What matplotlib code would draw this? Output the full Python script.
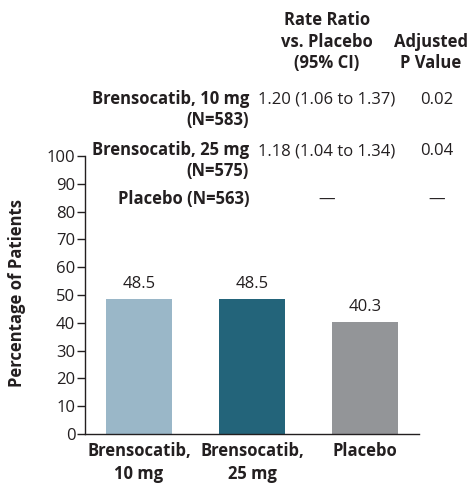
import matplotlib.pyplot as plt

plt.rcParams['font.family'] = ['Open Sans', 'DejaVu Sans']

groups = ["Brensocatib,\n10 mg", "Brensocatib,\n25 mg", "Placebo"]
values = [48.5, 48.5, 40.3]
colors = ["#9ab7c8", "#23647a", "#939598"]
yticks = [0, 10, 20, 30, 40, 50, 60, 70, 80, 90, 100]

row_names = [["Brensocatib, 10 mg", "(N=583)"], ["Brensocatib, 25 mg", "(N=575)"], ["Placebo (N=563)"]]
rate_ratios = ["1.20 (1.06 to 1.37)", "1.18 (1.04 to 1.34)", "\u2014"]
p_values = ["0.02", "0.04", "\u2014"]

txt = "#231f20"
W, H = 474, 484
fs = 12


def put(xp, yp, s, **kw):
    # place text by pixel position (from top-left), baseline aligned
    fig.text(xp / W, 1 - yp / H, s, va="baseline", fontsize=fs, color=txt, **kw)


fig = plt.figure(figsize=(W / 100, H / 100), dpi=100)
ax = fig.add_axes([85 / W, (H - 434) / H, (419 - 85) / W, (434 - 156) / H])

x = range(len(groups))
bars = ax.bar(x, values, width=0.584, color=colors)
for b, v in zip(bars, values):
    ax.text(b.get_x() + b.get_width() / 2, v + 4, f"{v:.1f}", ha="center", va="baseline",
            fontsize=fs, color=txt)

ax.set_xlim(-0.478, 2.478)
ax.set_ylim(0, 100)
ax.set_yticks(yticks)
ax.set_xticks(list(x))
ax.set_xticklabels(groups, fontsize=fs, fontweight="bold", color=txt, linespacing=1.3)
ax.tick_params(axis="x", length=0, pad=6)
ax.tick_params(axis="y", length=6, width=1, color=txt, labelsize=fs, labelcolor=txt, pad=1)
for s in ["top", "right"]:
    ax.spines[s].set_visible(False)
for s in ["left", "bottom"]:
    ax.spines[s].set_color(txt)
    ax.spines[s].set_linewidth(1)

fig.text(17 / W, 1 - 293 / H, "Percentage of Patients", rotation=90, ha="center", va="center",
         fontsize=fs, fontweight="bold", color=txt)

# table above the chart
for yp, s in zip([25, 47, 68], ["Rate Ratio", "vs. Placebo", "(95% CI)"]):
    put(327, yp, s, ha="center", fontweight="bold")
for yp, s in zip([47, 68], ["Adjusted", "P Value"]):
    put(431, yp, s, ha="center", fontweight="bold")

row_y = [104, 155, 204]
for ry, name, rr, pv in zip(row_y, row_names, rate_ratios, p_values):
    for i, line in enumerate(name):
        put(249, ry + 21 * i, line, ha="right", fontweight="bold")
    put(327, ry, rr, ha="center")
    put(437, ry, pv, ha="center")

fig.savefig("out.png", dpi=100)
